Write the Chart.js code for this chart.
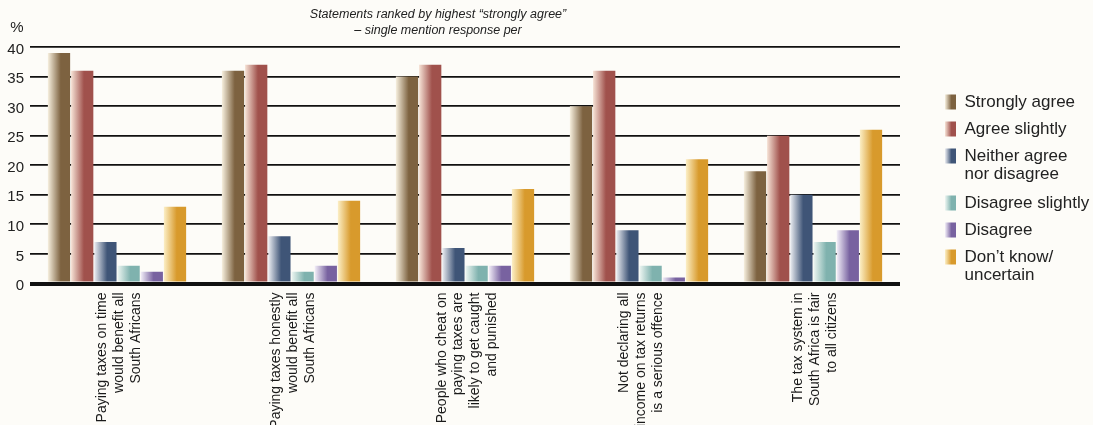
<!DOCTYPE html>
<html>
<head>
<meta charset="utf-8">
<title>Tax attitudes</title>
<script src="https://cdn.jsdelivr.net/npm/chart.js@4"></script>
<style>
  html, body { margin: 0; padding: 0; background: #fdfcf8; overflow: hidden; }
  .wrap { position: relative; width: 1093px; height: 425px; }
</style>
</head>
<body>
<div class="wrap"><canvas id="taxChart"></canvas></div>
<script>
// Statements (x categories), one label line per array entry
const statements = [
    ["Paying taxes on time", "would benefit all", "South Africans"],
    ["Paying taxes honestly", "would benefit all", "South Africans"],
    ["People who cheat on", "paying taxes are", "likely to get caught", "and punished"],
    ["Not declaring all", "income on tax returns", "is a serious offence"],
    ["The tax system in", "South Africa is fair", "to all citizens"]
];

const seriesNames = [
    "Strongly agree",
    "Agree slightly",
    ["Neither agree", "nor disagree"],
    "Disagree slightly",
    "Disagree",
    ["Don\u2019t know/", "uncertain"]
];

// % of respondents
const stronglyAgree    = [39, 36, 35, 30, 19];
const agreeSlightly    = [36, 37, 37, 36, 25];
const neitherAgree     = [7, 8, 6, 9, 15];
const disagreeSlightly = [3, 2, 3, 3, 7];
const disagree         = [2, 3, 3, 1, 9];
const dontKnow         = [13, 14, 16, 21, 26];

const yTicks = [0, 5, 10, 15, 20, 25, 30, 35, 40];

// bar colours: light left edge fading into the dark tone
const lightTones = ["#f7f0df", "#f6e3d6", "#eceef2", "#eef6f2", "#f3eff8", "#fcefc6"];
const darkTones  = ["#7d6240", "#a0514c", "#3f5577", "#7fb2ae", "#7862a0", "#d89a2c"];

const FONT = "'Liberation Sans', Arial, Helvetica, sans-serif";
const CAT_PCT = 0.8;
const BAR_PCT = 0.96;

function makeGradient(ctx, left, width, i) {
    const g = ctx.createLinearGradient(left, 0, left + width, 0);
    g.addColorStop(0, lightTones[i]);
    g.addColorStop(0.58, darkTones[i]);
    g.addColorStop(1, darkTones[i]);
    return g;
}

function barFill(c) {
    const chart = c.chart;
    const i = c.datasetIndex;
    const j = c.dataIndex;
    if (!chart.chartArea || j === undefined) return darkTones[i];
    const xs = chart.scales.x;
    const groupW = (xs.width / statements.length) * CAT_PCT;
    const slot = groupW / seriesNames.length;
    const barW = slot * BAR_PCT;
    const left = xs.getPixelForValue(j) - groupW / 2 + i * slot + (slot - barW) / 2;
    return makeGradient(chart.ctx, left, barW, i);
}

// multi-line rotated labels: centre the block of lines on the tick
const centerTickLines = {
    id: "centerTickLines",
    beforeDraw(chart) {
        const items = chart.scales.x.getLabelItems(chart.chartArea);
        if (!items._centered) {
            items.forEach(it => {
                const n = Array.isArray(it.label) ? it.label.length : 1;
                it.options.translation[0] -= (n - 1) * it.font.lineHeight / 2 - 2;
            });
            items._centered = true;
        }
        // legend sits a little away from the plot
        chart.legend.left = chart.chartArea.right + 35;
        chart.legend.right = chart.legend.left + chart.legend.width;
    }
};

// heading and the "%" unit mark
const headings = {
    id: "headings",
    afterDraw(chart) {
        const ctx = chart.ctx;
        ctx.save();
        ctx.fillStyle = "#222";
        ctx.textAlign = "center";
        ctx.textBaseline = "middle";
        ctx.font = "italic 12.5px " + FONT;
        ctx.fillText("Statements ranked by highest \u201cstrongly agree\u201d", 438, 15);
        ctx.fillText("\u2013 single mention response per", 438, 31);
        ctx.font = "15px " + FONT;
        ctx.fillText("%", 17, 28);
        ctx.restore();
    }
};

const series = [stronglyAgree, agreeSlightly, neitherAgree, disagreeSlightly, disagree, dontKnow];

const ctx = document.getElementById("taxChart").getContext("2d");
const taxChart = new Chart(ctx, {
    type: "bar",
    data: {
        labels: statements,
        datasets: series.map((vals, i) => ({
            label: seriesNames[i],
            data: vals,
            backgroundColor: barFill,
            borderWidth: 0,
            categoryPercentage: CAT_PCT,
            barPercentage: BAR_PCT
        }))
    },
    options: {
        responsive: true,
        maintainAspectRatio: false,
        animation: false,
        layout: { padding: { top: 47, left: 0, right: 0, bottom: 0 } },
        plugins: {
            tooltip: { enabled: false },
            legend: {
                position: "right",
                align: "start",
                title: { display: true, text: "", font: { size: 12 }, padding: { top: 22, bottom: 0 } },
                labels: {
                    font: { family: FONT, size: 17, lineHeight: 1.09 },
                    color: "#222",
                    boxWidth: 11,
                    boxHeight: 15,
                    padding: 10,
                    generateLabels(chart) {
                        const items = Chart.defaults.plugins.legend.labels.generateLabels(chart);
                        const x0 = chart.chartArea ? chart.chartArea.right + 45 : 945;
                        items.forEach((it, i) => {
                            it.fillStyle = makeGradient(chart.ctx, x0, 11, i);
                            it.strokeStyle = "rgba(0,0,0,0)";
                            it.lineWidth = 0;
                        });
                        return items;
                    }
                }
            }
        },
        scales: {
            x: {
                grid: { display: false },
                border: { display: false },
                ticks: {
                    autoSkip: false,
                    minRotation: 90,
                    maxRotation: 90,
                    padding: 1,
                    color: "#1a1a1a",
                    font: { family: FONT, size: 14, lineHeight: 1.2 }
                },
                afterFit(scale) { scale.height = 141.5; }
            },
            y: {
                min: 0,
                max: 40,
                afterBuildTicks(scale) { scale.ticks = yTicks.map(v => ({ value: v })); },
                grid: {
                    color: "#111",
                    drawTicks: false,
                    lineWidth: c => (c.tick && c.tick.value === 0 ? 4 : 1.8)
                },
                border: { display: false },
                ticks: {
                    padding: 6,
                    labelOffset: 2.5,
                    color: "#222",
                    font: { family: FONT, size: 15 }
                },
                afterFit(scale) { scale.width = 30; }
            }
        }
    },
    plugins: [centerTickLines, headings]
});

// keep the plot ending at x = 900, leaving the rest for the legend
taxChart.options.layout.padding.right = Math.max(0, 1093 - 900 - taxChart.legend.width);
taxChart.update();
</script>
</body>
</html>
